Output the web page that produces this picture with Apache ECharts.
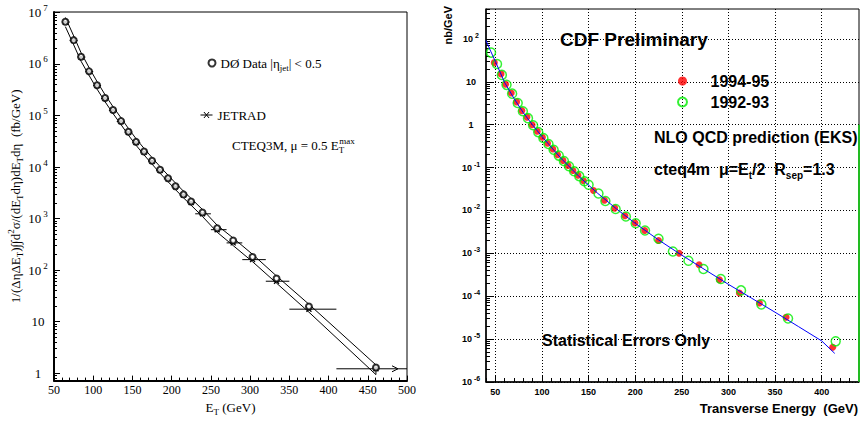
<!DOCTYPE html>
<html><head><meta charset="utf-8">
<script src="https://cdn.jsdelivr.net/npm/echarts@6/dist/echarts.min.js"></script>
<style>html,body{margin:0;padding:0;background:#fff}#c{width:862px;height:421px}</style>
</head><body><div id="c"></div>
<script>
// ---------- Left panel (DØ) ----------
const d0ET     = [64.5, 75.1, 84.5, 94.7, 104.9, 115.1, 125.3, 135.5, 144.9, 154.6, 164.8, 175, 185.2, 195.4, 204.9, 215.1, 224.8, 239.3, 258, 278.4, 303.1, 333.7, 375, 460.4];
const d0Data   = [6.6e6, 2.9e6, 1.38e6, 7.2e5, 3.88e5, 2.18e5, 1.28e5, 7.8e4, 4.85e4, 3.08e4, 2.0e4, 1.33e4, 8.9e3, 6.07e3, 4.26e3, 2.95e3, 2.14e3, 1.31e3, 650, 375, 180, 69, 19.7, 1.29];
const jetrad   = [6.5e6, 2.85e6, 1.36e6, 7.1e5, 3.82e5, 2.14e5, 1.26e5, 7.65e4, 4.75e4, 3.0e4, 1.95e4, 1.3e4, 8.7e3, 5.9e3, 4.15e3, 2.87e3, 2.05e3, 1.24e3, 610, 338, 160, 61, 17.5, 1.22];
const jetBinLo = [60, 70, 80, 90, 100, 110, 120, 130, 140, 150, 160, 170, 180, 190, 200, 210, 220, 230, 250, 270, 290, 320, 350, 410];
const jetBinHi = [70, 80, 90, 100, 110, 120, 130, 140, 150, 160, 170, 180, 190, 200, 210, 220, 230, 250, 270, 290, 320, 350, 410, 500];
const bandUp   = [8.0e6, 3.5e6, 1.65e6, 8.5e5, 4.55e5, 2.53e5, 1.48e5, 9.0e4, 5.6e4, 3.55e4, 2.3e4, 1.53e4, 1.02e4, 6.95e3, 4.9e3, 3.4e3, 2.46e3, 1.5e3, 745, 420, 203, 77, 21.8, 1.45];
const bandLo   = [5.3e6, 2.35e6, 1.13e6, 6.0e5, 3.25e5, 1.85e5, 1.09e5, 6.65e4, 4.15e4, 2.65e4, 1.72e4, 1.14e4, 7.6e3, 5.2e3, 3.65e3, 2.53e3, 1.82e3, 1.1e3, 545, 300, 146, 56, 15.3, 0.94];
const d0XTicks = [50, 100, 150, 200, 250, 300, 350, 400, 450, 500];
const d0YTicks = [1, 10, 100, 1e3, 1e4, 1e5, 1e6, 1e7];

// ---------- Right panel (CDF) ----------
const redET   = [48.9, 56.1, 61, 67.1, 72.8, 78.4, 83.9, 89.4, 95, 100.5, 106, 111.6, 116.7, 122.5, 127.9, 133.2, 138.6, 144.5, 155.3, 167, 178, 189, 199.8, 210.2, 225, 247.1, 268.5, 290.3, 311.7, 333.2, 361.8, 411.8];
const redVal  = [28, 15.3, 8.8, 5.5, 3.4, 2.13, 1.5, 1.0, 0.70, 0.51, 0.37, 0.27, 0.198, 0.147, 0.111, 0.085, 0.066, 0.049, 0.029, 0.0172, 0.0113, 0.0075, 0.0051, 0.0034, 0.00199, 0.00100, 0.00054, 0.000241, 0.000118, 6.9e-5, 3.2e-5, 6.4e-6];
const greenET  = [45.4, 51.8, 57, 62, 68, 74, 79.5, 85, 90.5, 96, 101.5, 107, 112.5, 118, 123.5, 129, 134.5, 140, 145.5, 150, 160.6, 168, 179, 190, 200.5, 210.5, 225, 240.4, 257.1, 273.2, 291.8, 313.5, 335.3, 363.9, 415];
const greenVal = [48, 26, 14.5, 8.5, 5.3, 3.2, 2.05, 1.42, 0.97, 0.67, 0.49, 0.355, 0.26, 0.19, 0.142, 0.107, 0.082, 0.063, 0.048, 0.0395, 0.0248, 0.0165, 0.0108, 0.0072, 0.0050, 0.0034, 0.00218, 0.00110, 0.00067, 0.00043, 0.00025, 0.000136, 6.4e-5, 3.0e-5, 8.8e-6];
const eksET   = [40, 45, 50, 60, 70, 80, 90, 100, 120, 140, 160, 180, 200, 225, 250, 275, 300, 325, 350, 375, 400, 414];
const eksVal  = [92, 52, 30, 9.6, 4.1, 1.9, 0.98, 0.53, 0.168, 0.061, 0.0248, 0.0108, 0.0050, 0.00205, 0.00090, 0.00041, 0.000188, 8.9e-5, 4.2e-5, 1.95e-5, 9.0e-6, 4.6e-6];
const edgeET  = [440, 440];
const edgeVal = [1, 1e-6];
const cdfXTicks = [50, 100, 150, 200, 250, 300, 350, 400];
const cdfYTicks = [1e-6, 1e-5, 1e-4, 1e-3, 1e-2, 1e-1, 1, 10, 100];

// minor tick positions
function logMinor(decades) {
  const out = [];
  decades.forEach(d => { for (let k = 2; k <= 9; k++) out.push(+(k * d).toPrecision(3)); });
  return out;
}
const d0YMinor = [0.8, 0.9].concat(logMinor(d0YTicks.slice(0, -1)));
const cdfYMinor = logMinor(cdfYTicks.concat([1000]));
const d0XMinor = []; for (let v = 60; v < 500; v += 10) if (v % 50) d0XMinor.push(v);
const cdfXMinor = []; for (let v = 40; v <= 440; v += 10) if (v % 50) cdfXMinor.push(v);

const SERIF = 'Liberation Serif';
const SANS = 'Liberation Sans';
const SP2 = '\u00a0\u00a0';

function expLabel(v) {
  const e = Math.round(Math.log10(v));
  if (e === 0) return '{b|1}';
  if (e === 1) return '{b|10}';
  return '{b|10}{s|' + e + '}';
}

const chart = echarts.init(document.getElementById('c'), null, {renderer: 'svg'});

const n = d0ET.length;
const upData = d0ET.map((x, i) => [x, bandUp[i]]); upData.push([d0ET[n - 1], bandLo[n - 1]]);
const loData = d0ET.map((x, i) => [x, bandLo[i]]);

const option = {
  animation: false,
  backgroundColor: '#fff',
  grid: [
    {left: 54, top: 12, width: 353, height: 371, show: true, borderColor: '#000', borderWidth: 1, backgroundColor: 'transparent'},
    {left: 486, top: 9, width: 373, height: 373, show: true, borderColor: '#000', borderWidth: 1, backgroundColor: 'transparent'}
  ],
  xAxis: [
    {gridIndex: 0, type: 'value', min: 50, max: 500, position: 'bottom',
      axisLine: {show: true, onZero: false, lineStyle: {color: '#000', width: 2}},
      axisTick: {show: true, inside: true, length: 5, customValues: d0XTicks, lineStyle: {color: '#000'}},
      axisLabel: {customValues: d0XTicks, fontFamily: SERIF, fontSize: 12, color: '#000', margin: 3},
      splitLine: {show: false},
      name: '{t|E}{sub|T}{t| (GeV)}', nameLocation: 'middle', nameGap: 14,
      nameTextStyle: {color: '#000', rich: {
        t: {fontFamily: SERIF, fontSize: 13, lineHeight: 18, color: '#000'},
        sub: {fontFamily: SERIF, fontSize: 9, lineHeight: 9, verticalAlign: 'bottom', color: '#000'}}}
    },
    {gridIndex: 0, type: 'value', min: 50, max: 500, position: 'bottom',
      axisLine: {show: false}, axisLabel: {show: false}, splitLine: {show: false},
      axisTick: {show: true, inside: true, length: 3, customValues: d0XMinor, lineStyle: {color: '#000'}}
    },
    {gridIndex: 1, type: 'value', min: 40, max: 440, position: 'bottom',
      axisLine: {show: true, onZero: false, lineStyle: {color: '#000', width: 1.5}},
      axisTick: {show: true, inside: true, length: 7, customValues: cdfXTicks, lineStyle: {color: '#000', width: 1}},
      axisLabel: {customValues: cdfXTicks, fontFamily: SANS, fontWeight: 'bold', fontSize: 9, color: '#000', margin: 5},
      splitLine: {show: true, lineStyle: {color: '#000', width: 1, type: [1, 2]}}
    },
    {gridIndex: 1, type: 'value', min: 40, max: 440, position: 'bottom',
      axisLine: {show: false}, axisLabel: {show: false}, splitLine: {show: false},
      axisTick: {show: true, inside: true, length: 4, customValues: cdfXMinor, lineStyle: {color: '#000'}}
    }
  ],
  yAxis: [
    {gridIndex: 0, type: 'log', logBase: 10, min: 0.72, max: 1.02e7, position: 'left',
      axisLine: {show: true, onZero: false, lineStyle: {color: '#000', width: 2}},
      axisTick: {show: true, inside: true, length: 6, customValues: d0YTicks, lineStyle: {color: '#000'}},
      axisLabel: {customValues: d0YTicks, formatter: expLabel, align: 'center', margin: 16,
        rich: {
          b: {fontFamily: SERIF, fontSize: 13, lineHeight: 18, color: '#000'},
          s: {fontFamily: SERIF, fontSize: 9, lineHeight: 9, verticalAlign: 'top', padding: [0, 0, 0, 2], color: '#000'}
        }},
      splitLine: {show: false},
      name: '{t|1/(ΔηΔE}{sub|T}{t|)∫∫d}{sup|2}{t|σ/(dE}{sub|T}{t|dη)dE}{sub|T}{t|dη' + SP2 + '(fb/GeV)}',
      nameLocation: 'middle', nameGap: 24,
      nameTextStyle: {color: '#000', rich: {
        t: {fontFamily: SERIF, fontSize: 13, lineHeight: 18, color: '#000'},
        sub: {fontFamily: SERIF, fontSize: 9, lineHeight: 9, verticalAlign: 'bottom', color: '#000'},
        sup: {fontFamily: SERIF, fontSize: 9, lineHeight: 9, verticalAlign: 'top', color: '#000'}}}
    },
    {gridIndex: 0, type: 'log', logBase: 10, min: 0.72, max: 1.02e7, position: 'left',
      axisLine: {show: false}, axisLabel: {show: false}, splitLine: {show: false},
      axisTick: {show: true, inside: true, length: 3, customValues: d0YMinor, lineStyle: {color: '#000'}}
    },
    {gridIndex: 1, type: 'log', logBase: 10, min: 9.9e-7, max: 500, position: 'left',
      axisLine: {show: true, onZero: false, lineStyle: {color: '#000', width: 1.5}},
      axisTick: {show: true, inside: true, length: 8, customValues: cdfYTicks, lineStyle: {color: '#000'}},
      axisLabel: {customValues: cdfYTicks, formatter: expLabel, align: 'center', margin: 15,
        rich: {
          b: {fontFamily: SANS, fontWeight: 'bold', fontSize: 9, lineHeight: 14, color: '#000'},
          s: {fontFamily: SANS, fontWeight: 'bold', fontSize: 7, lineHeight: 7, verticalAlign: 'top', padding: [0, 0, 0, 2], color: '#000'}
        }},
      splitLine: {show: true, lineStyle: {color: '#000', width: 1, type: [1, 2]}}
    },
    {gridIndex: 1, type: 'log', logBase: 10, min: 9.9e-7, max: 500, position: 'left',
      axisLine: {show: false}, axisLabel: {show: false}, splitLine: {show: false},
      axisTick: {show: true, inside: true, length: 4, customValues: cdfYMinor, lineStyle: {color: '#000'}}
    }
  ],
  legend: [
    {data: [{name: 'DØ Data', icon: 'emptyCircle'}], left: 207.5, top: 54, padding: 0,
      itemWidth: 7, itemHeight: 7, selectedMode: false,
      formatter: () => '{t|DØ Data |η}{sub|jet}{t|| < 0.5}',
      textStyle: {color: '#000', fontFamily: SERIF, fontSize: 13, lineHeight: 18, rich: {
        t: {fontFamily: SERIF, fontSize: 13, lineHeight: 18, color: '#000'},
        sub: {fontFamily: SERIF, fontSize: 9, lineHeight: 9, verticalAlign: 'bottom', color: '#000'}}}
    },
    {data: [{name: 'JETRAD', icon: 'path://M0,4L14,4M4,0.5L10,7.5M10,0.5L4,7.5'}], left: 200, top: 106, padding: 0,
      itemWidth: 12, itemHeight: 7, selectedMode: false,
      itemStyle: {color: 'transparent', borderColor: '#000', borderWidth: 1},
      textStyle: {color: '#000', fontFamily: SERIF, fontSize: 13, lineHeight: 18}
    },
    {data: [{name: '1994-95', icon: 'circle'}, {name: '1992-93', icon: 'circle'}], orient: 'vertical',
      left: 677, top: 73, padding: 0, itemWidth: 46, itemHeight: 9, itemGap: 5, selectedMode: false,
      textStyle: {color: '#000', fontFamily: SANS, fontWeight: 'bold', fontSize: 16, lineHeight: 16}
    }
  ],
  graphic: [
    {type: 'text', x: 232, y: 145, style: {
      text: '{t|CTEQ3M, μ = 0.5 E}{sub|T}{sup|max}', verticalAlign: 'middle', textVerticalAlign: 'middle',
      rich: {
        t: {fontFamily: SERIF, fontSize: 13, lineHeight: 18, fill: '#000'},
        sub: {fontFamily: SERIF, fontSize: 9, lineHeight: 9, verticalAlign: 'bottom', width: 0.5, fill: '#000'},
        sup: {fontFamily: SERIF, fontSize: 9, lineHeight: 9, verticalAlign: 'top', fill: '#000'}}}},
    {type: 'text', x: 560, y: 39, style: {text: 'CDF Preliminary', fontFamily: SANS, fontWeight: 'bold', fontSize: 19, fill: '#000', verticalAlign: 'middle', textVerticalAlign: 'middle'}},
    {type: 'text', x: 654, y: 137, style: {text: 'NLO QCD prediction (EKS)', fontFamily: SANS, fontWeight: 'bold', fontSize: 16, fill: '#000', verticalAlign: 'middle', textVerticalAlign: 'middle'}},
    {type: 'text', x: 654, y: 169, style: {
      text: '{t|cteq4m' + SP2 + 'μ=E}{sub|t}{t|/2' + SP2 + 'R}{sub|sep}{t|=1.3}', verticalAlign: 'middle', textVerticalAlign: 'middle',
      rich: {
        t: {fontFamily: SANS, fontWeight: 'bold', fontSize: 16, lineHeight: 22, fill: '#000'},
        sub: {fontFamily: SANS, fontWeight: 'bold', fontSize: 10, lineHeight: 10, verticalAlign: 'bottom', fill: '#000'}}}},
    {type: 'text', x: 542, y: 340, style: {text: 'Statistical Errors Only', fontFamily: SANS, fontWeight: 'bold', fontSize: 16, fill: '#000', verticalAlign: 'middle', textVerticalAlign: 'middle'}},
    {type: 'text', x: 448, y: 6, rotation: Math.PI / 2, style: {text: 'nb/GeV', fontFamily: SANS, fontWeight: 'bold', fontSize: 11, fill: '#000', align: 'right', textAlign: 'right', verticalAlign: 'middle', textVerticalAlign: 'middle'}},
    {type: 'text', x: 858, y: 408, style: {text: 'Transverse Energy' + SP2 + '(GeV)', fontFamily: SANS, fontWeight: 'bold', fontSize: 13, fill: '#000', align: 'right', textAlign: 'right', verticalAlign: 'middle', textVerticalAlign: 'middle'}}
  ],
  series: [
    {type: 'line', name: 'bandUp', xAxisIndex: 0, yAxisIndex: 0, data: upData, symbol: 'none', silent: true,
      lineStyle: {color: '#000', width: 1}, z: 2},
    {type: 'line', name: 'bandLo', xAxisIndex: 0, yAxisIndex: 0, data: loData, symbol: 'none', silent: true,
      lineStyle: {color: '#000', width: 1}, z: 2},
    {type: 'custom', name: 'JETRAD', xAxisIndex: 0, yAxisIndex: 0, z: 3,
      itemStyle: {color: '#000'},
      encode: {x: 0, y: 1},
      data: d0ET.map((x, i) => [x, jetrad[i], jetBinLo[i], jetBinHi[i]]),
      renderItem: function (params, api) {
        const x = api.value(0), y = api.value(1), lo = api.value(2), hi = api.value(3);
        const p = api.coord([x, y]), pl = api.coord([lo, y]), ph = api.coord([hi, y]);
        const s = 2.5;
        const st = {stroke: '#000', lineWidth: 1, fill: null};
        const ch = [
          {type: 'line', shape: {x1: pl[0], y1: pl[1], x2: ph[0], y2: ph[1]}, style: st},
          {type: 'line', shape: {x1: p[0] - s, y1: p[1] - s, x2: p[0] + s, y2: p[1] + s}, style: {stroke: '#000', lineWidth: 1.3}},
          {type: 'line', shape: {x1: p[0] - s, y1: p[1] + s, x2: p[0] + s, y2: p[1] - s}, style: {stroke: '#000', lineWidth: 1.3}}
        ];
        if (params.dataIndex === d0ET.length - 1) {
          const tx = ph[0] - 9;
          ch.push({type: 'polyline', shape: {points: [[tx - 6, ph[1] - 3], [tx, ph[1]], [tx - 6, ph[1] + 3]]}, style: st});
        }
        return {type: 'group', children: ch};
      }
    },
    {type: 'scatter', name: 'DØ Data', xAxisIndex: 0, yAxisIndex: 0, z: 4,
      symbol: 'emptyCircle', symbolSize: 6, itemStyle: {color: '#000', borderWidth: 1},
      data: d0ET.map((x, i) => [x, d0Data[i]])},

    {type: 'scatter', name: '1994-95', xAxisIndex: 2, yAxisIndex: 2, z: 3,
      symbol: 'circle', symbolSize: 7, itemStyle: {color: '#ff0000'},
      data: redET.map((x, i) => [x, redVal[i]])},
    {type: 'scatter', name: '1992-93', xAxisIndex: 2, yAxisIndex: 2, z: 4,
      symbol: 'circle', symbolSize: 9, itemStyle: {color: 'rgba(0,0,0,0)', borderColor: '#00ee00', borderWidth: 1.5},
      data: greenET.map((x, i) => [x, greenVal[i]])},
    {type: 'line', name: 'EKS', xAxisIndex: 2, yAxisIndex: 2, z: 5, symbol: 'none', silent: true,
      lineStyle: {color: '#0000ff', width: 1},
      data: eksET.map((x, i) => [x, eksVal[i]])},
    {type: 'line', name: 'edge', xAxisIndex: 2, yAxisIndex: 2, z: 5, symbol: 'none', silent: true, clip: false,
      lineStyle: {color: '#22bb22', width: 2},
      data: edgeET.map((x, i) => [x, edgeVal[i]])}
  ]
};
chart.setOption(option);
</script>
</body></html>
